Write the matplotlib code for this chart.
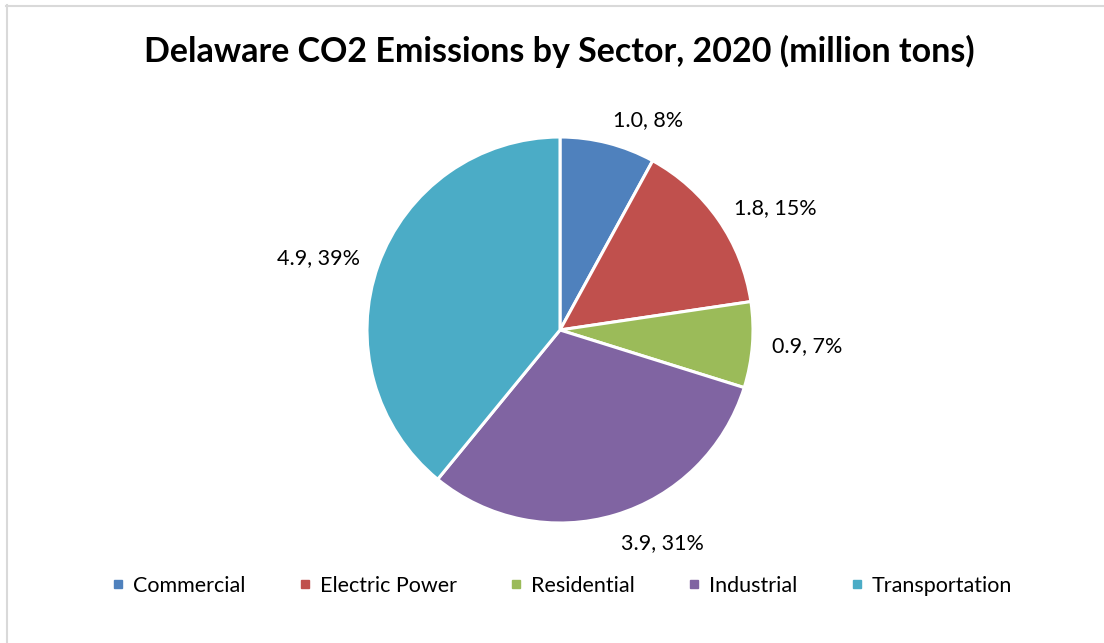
import matplotlib
matplotlib.use('Agg')
import matplotlib.pyplot as plt
from matplotlib.lines import Line2D
import numpy as np

plt.rcParams['font.family'] = ['Lato', 'DejaVu Sans']

sectors = ['Commercial', 'Electric Power', 'Residential', 'Industrial', 'Transportation']
emissions = [1.0, 1.84, 0.9, 3.9, 4.9]
colors = ['#4F81BD', '#C0504D', '#9BBB59', '#8064A2', '#4BACC6']
title = 'Delaware CO2 Emissions by Sector, 2020 (million tons)'

W, H = 1104, 643
fig = plt.figure(figsize=(W / 100, H / 100), dpi=100)

# outer chart border (only top/left visible in the crop)
fig.add_artist(Line2D([6.5 / W, 6.5 / W], [0, 1 - 5 / H], color='#D9D9D9', lw=1.5, transform=fig.transFigure))
fig.add_artist(Line2D([6 / W, 1], [1 - 5.5 / H, 1 - 5.5 / H], color='#D9D9D9', lw=1.5, transform=fig.transFigure))

# pie: center (560, 330), radius 193 px
cx, cy, r = 560, 330, 193
ax = fig.add_axes([(cx - r) / W, (H - cy - r) / H, 2 * r / W, 2 * r / H])
wedges, _ = ax.pie(emissions, colors=colors, startangle=90, counterclock=False,
                   wedgeprops=dict(edgecolor='white', linewidth=2.2))
ax.set_xlim(-1, 1)
ax.set_ylim(-1, 1)
ax.set_aspect('equal')
ax.axis('off')

total = sum(emissions)
for w, v in zip(wedges, emissions):
    ang = np.deg2rad((w.theta1 + w.theta2) / 2)
    x, y = 1.1 * np.cos(ang), 1.1 * np.sin(ang)
    ha = 'left' if x > 0 else 'right'
    if y > 0.8 * 1.1:
        va = 'bottom'
        y -= 0.03
    elif y < -0.8 * 1.1:
        va = 'top'
    else:
        va = 'center'
    ax.text(x, y, f'{v:.1f}, {v / total * 100:.0f}%', ha=ha, va=va, fontsize=15.5, color='#000000',
            clip_on=False)

fig.text(559 / W, 1 - 51 / H, title, ha='center', va='center', fontsize=24.5, fontweight='bold')

handles = [Line2D([], [], marker='s', ls='', color=c, markersize=6) for c in colors]
fig.legend(handles, sectors, loc='center', bbox_to_anchor=(561 / W, 1 - 586 / H), ncol=5,
           frameon=False, fontsize=15.5, handletextpad=0.3, columnspacing=2.35, handlelength=0.8)

fig.savefig('out.png', dpi=100)
